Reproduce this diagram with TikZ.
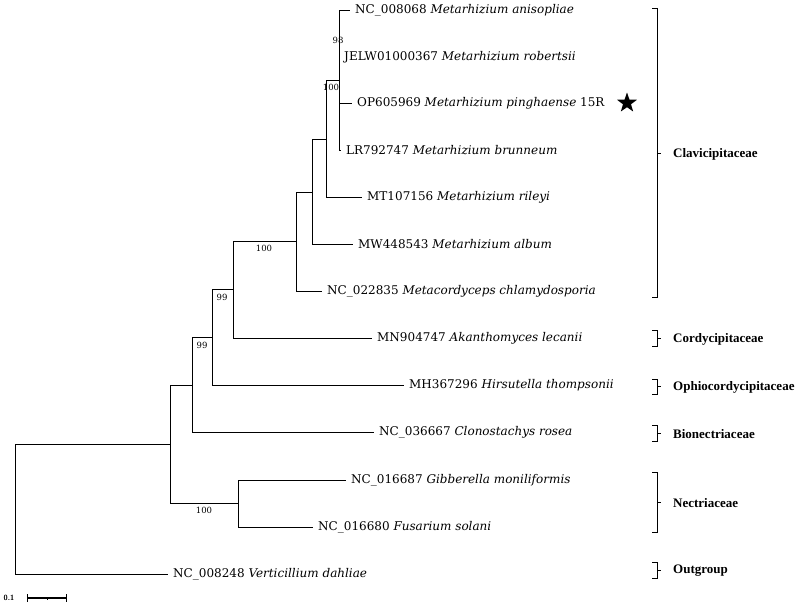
\documentclass[tikz,border=0pt]{standalone}
\usepackage{fontspec}
\setmainfont{DejaVu Serif}
\newfontfamily\famfont{Liberation Serif}
\usetikzlibrary{positioning,shapes.geometric}

\begin{document}
\begin{tikzpicture}[
  x=1pt, y=-1pt,
  font=\fontsize{12}{14}\selectfont,
  branch/.style={line width=0.9pt},
  taxon/.style={inner xsep=5pt, inner ysep=0pt},
  boot/.style={inner sep=0pt, font=\fontsize{8.5}{9}\selectfont},
  bracket/.style={line width=0.9pt},
  family/.style={anchor=west, inner sep=0pt, font=\famfont\bfseries\fontsize{13}{15}\selectfont}
]
\useasboundingbox (0,0) rectangle (800,605);

% tips of the branches
\coordinate (t1) at (350,10);
\coordinate (t2) at (339,57);
\coordinate (t3) at (352,103);
\coordinate (t4) at (341,150);
\coordinate (t5) at (362,197);
\coordinate (t6) at (353,244);
\coordinate (t7) at (322,291);
\coordinate (t8) at (372,338);
\coordinate (t9) at (404,385);
\coordinate (t10) at (374,432);
\coordinate (t11) at (346,480);
\coordinate (t12) at (313,527);
\coordinate (t13) at (168,574);

% inner nodes of the tree
\coordinate (core) at (339,80);
\coordinate (withrileyi) at (326,139);
\coordinate (withalbum) at (312,192);
\coordinate (metarhizium) at (296,241);
\coordinate (clavi) at (233,289);
\coordinate (ophio) at (212,337);
\coordinate (bionect) at (192,385);
\coordinate (nectria) at (238,503);
\coordinate (hypo) at (170,444);
\coordinate (root) at (15,509);

% taxa
\node[taxon, right=0pt of t1] (anisopliae) {NC\_008068 \textit{Metarhizium anisopliae}};
\node[taxon, right=0pt of t2] (robertsii) {JELW01000367 \textit{Metarhizium robertsii}};
\node[taxon, right=0pt of t3] (pinghaense) {OP605969 \textit{Metarhizium pinghaense} 15R};
\node[taxon, right=0pt of t4] (brunneum) {LR792747 \textit{Metarhizium brunneum}};
\node[taxon, right=0pt of t5] (rileyi) {MT107156 \textit{Metarhizium rileyi}};
\node[taxon, right=0pt of t6] (album) {MW448543 \textit{Metarhizium album}};
\node[taxon, right=0pt of t7] (chlamy) {NC\_022835 \textit{Metacordyceps chlamydosporia}};
\node[taxon, right=0pt of t8] (lecanii) {MN904747 \textit{Akanthomyces lecanii}};
\node[taxon, right=0pt of t9] (thompsonii) {MH367296 \textit{Hirsutella thompsonii}};
\node[taxon, right=0pt of t10] (rosea) {NC\_036667 \textit{Clonostachys rosea}};
\node[taxon, right=0pt of t11] (gibberella) {NC\_016687 \textit{Gibberella moniliformis}};
\node[taxon, right=0pt of t12] (fusarium) {NC\_016680 \textit{Fusarium solani}};
\node[taxon, right=0pt of t13] (dahliae) {NC\_008248 \textit{Verticillium dahliae}};
\node[star, star points=5, star point ratio=2.5, fill=black, minimum size=21pt, inner sep=0pt] (mark) at (627,103) {};

% branches
\draw[branch] (core) |- (t1);
\draw[branch] (core) |- (t2);
\draw[branch] (core) |- (t3);
\draw[branch] (core) |- (t4);
\draw[branch] (withrileyi) |- (core);
\draw[branch] (withrileyi) |- (t5);
\draw[branch] (withalbum) |- (withrileyi);
\draw[branch] (withalbum) |- (t6);
\draw[branch] (metarhizium) |- (withalbum);
\draw[branch] (metarhizium) |- (t7);
\draw[branch] (clavi) |- (metarhizium);
\draw[branch] (clavi) |- (t8);
\draw[branch] (ophio) |- (clavi);
\draw[branch] (ophio) |- (t9);
\draw[branch] (bionect) |- (ophio);
\draw[branch] (bionect) |- (t10);
\draw[branch] (nectria) |- (t11);
\draw[branch] (nectria) |- (t12);
\draw[branch] (hypo) |- (bionect);
\draw[branch] (hypo) |- (nectria);
\draw[branch] (root) |- (hypo);
\draw[branch] (root) |- (t13);

% bootstrap values
\node[boot] (bs98) at (338,40) {98};
\node[boot] (bs100a) at (331,87) {100};
\node[boot] (bs100b) at (264,248) {100};
\node[boot] (bs99a) at (222,297) {99};
\node[boot] (bs99b) at (202,345) {99};
\node[boot] (bs100c) at (204,510) {100};

% families
\draw[bracket] (652,8) -- (657,8) -- (657,297) -- (652,297) (657,153) -- (661,153);
\node[family] (clavicipitaceae) at (673,154) {Clavicipitaceae};
\draw[bracket] (652,330) -- (657,330) -- (657,346) -- (652,346) (657,338) -- (661,338);
\node[family] (cordycipitaceae) at (673,339) {Cordycipitaceae};
\draw[bracket] (652,379) -- (657,379) -- (657,394) -- (652,394) (657,386) -- (661,386);
\node[family] (ophiocordycipitaceae) at (673,387) {Ophiocordycipitaceae};
\draw[bracket] (652,425) -- (657,425) -- (657,441) -- (652,441) (657,433) -- (661,433);
\node[family] (bionectriaceae) at (673,434) {Bionectriaceae};
\draw[bracket] (652,472) -- (657,472) -- (657,532) -- (652,532) (657,502) -- (661,502);
\node[family] (nectriaceae) at (673,503) {Nectriaceae};
\draw[bracket] (652,562) -- (657,562) -- (657,578) -- (652,578) (657,570) -- (661,570);
\node[family] (outgroup) at (673,571) {Outgroup};

% scale bar
\node[inner sep=0pt, font=\sffamily\bfseries\fontsize{7.5}{8}\selectfont] (scaletext) at (9,598) {0.1};
\coordinate (sbl) at (27,598);
\coordinate (sbr) at (67,598);
\draw[line width=1.2pt, |-|] (sbl) -- (sbr);
\draw[line width=0.6pt] (47,598) -- (47,600);
\end{tikzpicture}
\end{document}
